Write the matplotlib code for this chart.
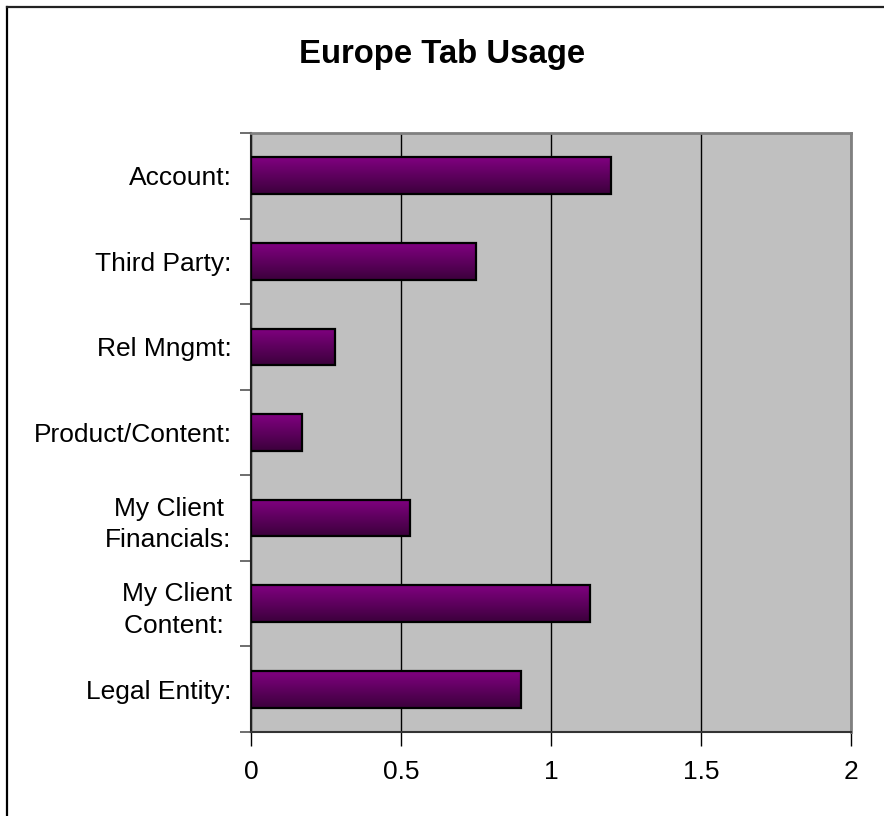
import numpy as np
import matplotlib
matplotlib.use("Agg")
import matplotlib.pyplot as plt
from matplotlib.lines import Line2D
from matplotlib.colors import LinearSegmentedColormap

plt.rcParams['font.family'] = ['Liberation Sans', 'DejaVu Sans']

# Tab usage, listed top to bottom
tabs = ["Account:", "Third Party:", "Rel Mngmt:", "Product/Content:",
        "My Client \nFinancials:", "My Client\nContent: ", "Legal Entity:"]
usage = [1.2, 0.75, 0.28, 0.17, 0.53, 1.13, 0.9]
xticks = [0, 0.5, 1, 1.5, 2]

fig = plt.figure(figsize=(8.84, 8.16), dpi=100)
ax = fig.add_axes([251 / 884, 1 - 732 / 816, 600 / 884, 599 / 816])
ax.set_facecolor("#c0c0c0")

y = np.arange(len(tabs))
bars = ax.barh(y, usage, height=0.43, color="none", edgecolor="black",
               linewidth=1.6, zorder=3)

# vertical purple gradient inside each bar
purple = LinearSegmentedColormap.from_list("purp", ["#800080", "#3c003c"])
grad = np.linspace(0, 1, 64).reshape(-1, 1)
for b in bars:
    x0, y0 = b.get_x(), b.get_y()
    w, h = b.get_width(), b.get_height()
    im = ax.imshow(grad, cmap=purple, aspect="auto", origin="upper",
                   extent=[x0, x0 + w, y0 + h, y0], zorder=2)
    im.set_clip_path(b)

ax.set_xlim(0, 2)
ax.set_ylim(len(tabs) - 0.5, -0.5)

ax.set_xticks(xticks)
ax.set_xticklabels([f"{t:g}" for t in xticks])
ax.xaxis.grid(True, color="black", linewidth=1.0, zorder=1)
ax.set_axisbelow(True)

ax.set_yticks(y)
ax.set_yticklabels(tabs, linespacing=1.4)
ax.set_yticks(np.arange(len(tabs) + 1) - 0.5, minor=True)
ax.tick_params(axis="y", which="major", length=0, pad=14, labelsize=19)
ax.tick_params(axis="y", which="minor", length=8, width=1.2, color="#555555")
ax.tick_params(axis="x", length=10, width=1.0, pad=10, labelsize=19)

for side in ("top", "right"):
    ax.spines[side].set_color("#808080")
    ax.spines[side].set_linewidth(2)
ax.spines["left"].set_color("#222222")
ax.spines["left"].set_linewidth(1.5)
ax.spines["bottom"].set_color("#333333")
ax.spines["bottom"].set_linewidth(1.5)

fig.text(0.5, 1 - 55 / 816, "Europe Tab Usage", ha="center", va="center",
         fontsize=23.7, fontweight="bold")

# chart frame (only left and top edges fall inside the image)
fig.add_artist(Line2D([7.5 / 884, 7.5 / 884], [0, 1 - 6.5 / 816],
                      color="black", linewidth=1.6, transform=fig.transFigure))
fig.add_artist(Line2D([7.5 / 884, 1], [1 - 6.5 / 816, 1 - 6.5 / 816],
                      color="#222222", linewidth=1.6, transform=fig.transFigure))

fig.savefig("out.png", dpi=100)
